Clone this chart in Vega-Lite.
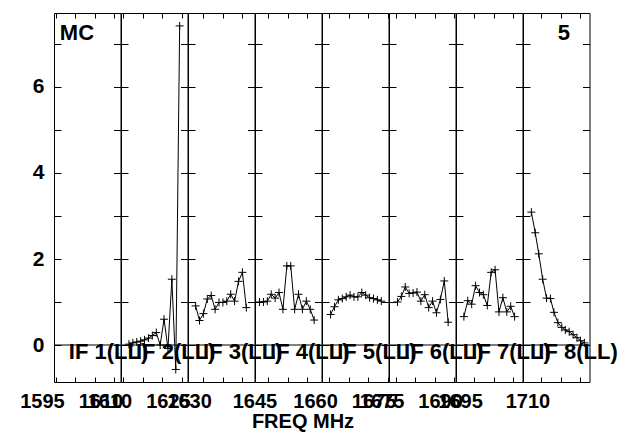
{
"$schema": "https://vega.github.io/schema/vega-lite/v6.json",
"background": "white",
"padding": {"left": 19, "top": 12, "right": 5, "bottom": 2},
"datasets": {
"ifs": [
{"if": 1, "label": "IF 1(LL)"}, {"if": 2, "label": "IF 2(LL)"}, {"if": 3, "label": "IF 3(LL)"}, {"if": 4, "label": "IF 4(LL)"},
{"if": 5, "label": "IF 5(LL)"}, {"if": 6, "label": "IF 6(LL)"}, {"if": 7, "label": "IF 7(LL)"}, {"if": 8, "label": "IF 8(LL)"}
],
"corner": [{"panel": 1, "text": "MC"}, {"panel": 8, "text": "5"}],
"spec": [
{"if":2,"freq":1611.4,"amp":0.02},{"if":2,"freq":1612.4,"amp":0.05},{"if":2,"freq":1613.4,"amp":0.07},{"if":2,"freq":1614.4,"amp":0.09},{"if":2,"freq":1615.4,"amp":0.12},{"if":2,"freq":1616.4,"amp":0.16},{"if":2,"freq":1617.4,"amp":0.22},{"if":2,"freq":1618.4,"amp":0.29},{"if":2,"freq":1619.4,"amp":0.0},{"if":2,"freq":1620.4,"amp":0.6},{"if":2,"freq":1621.4,"amp":-0.08},{"if":2,"freq":1622.4,"amp":1.53},{"if":2,"freq":1623.4,"amp":-0.57},{"if":2,"freq":1624.4,"amp":7.42},
{"if":3,"freq":1628.1,"amp":0.91},{"if":3,"freq":1629.1,"amp":0.57},{"if":3,"freq":1630.1,"amp":0.73},{"if":3,"freq":1631.1,"amp":1.07},{"if":3,"freq":1632.1,"amp":1.15},{"if":3,"freq":1633.1,"amp":0.83},{"if":3,"freq":1634.1,"amp":0.99},{"if":3,"freq":1635.1,"amp":0.99},{"if":3,"freq":1636.1,"amp":1.02},{"if":3,"freq":1637.1,"amp":1.18},{"if":3,"freq":1638.1,"amp":1.02},{"if":3,"freq":1639.1,"amp":1.48},{"if":3,"freq":1640.1,"amp":1.69},{"if":3,"freq":1641.1,"amp":0.87},
{"if":4,"freq":1642.7,"amp":1.0},{"if":4,"freq":1643.7,"amp":1.0},{"if":4,"freq":1644.7,"amp":1.02},{"if":4,"freq":1645.7,"amp":1.18},{"if":4,"freq":1646.7,"amp":1.09},{"if":4,"freq":1647.7,"amp":1.22},{"if":4,"freq":1648.7,"amp":0.83},{"if":4,"freq":1649.7,"amp":1.84},{"if":4,"freq":1650.7,"amp":1.84},{"if":4,"freq":1651.7,"amp":0.83},{"if":4,"freq":1652.7,"amp":1.18},{"if":4,"freq":1653.7,"amp":0.83},{"if":4,"freq":1654.7,"amp":1.02},{"if":4,"freq":1655.7,"amp":0.83},{"if":4,"freq":1656.7,"amp":0.58},
{"if":5,"freq":1660.4,"amp":0.71},{"if":5,"freq":1661.4,"amp":0.89},{"if":5,"freq":1662.4,"amp":1.05},{"if":5,"freq":1663.4,"amp":1.08},{"if":5,"freq":1664.4,"amp":1.12},{"if":5,"freq":1665.4,"amp":1.16},{"if":5,"freq":1666.4,"amp":1.12},{"if":5,"freq":1667.4,"amp":1.12},{"if":5,"freq":1668.4,"amp":1.22},{"if":5,"freq":1669.4,"amp":1.16},{"if":5,"freq":1670.4,"amp":1.1},{"if":5,"freq":1671.4,"amp":1.08},{"if":5,"freq":1672.4,"amp":1.05},{"if":5,"freq":1673.4,"amp":1.02},
{"if":6,"freq":1675.5,"amp":1.0},{"if":6,"freq":1676.5,"amp":1.13},{"if":6,"freq":1677.5,"amp":1.35},{"if":6,"freq":1678.5,"amp":1.2},{"if":6,"freq":1679.5,"amp":1.21},{"if":6,"freq":1680.5,"amp":1.23},{"if":6,"freq":1681.5,"amp":1.02},{"if":6,"freq":1682.5,"amp":1.17},{"if":6,"freq":1683.5,"amp":0.87},{"if":6,"freq":1684.5,"amp":1.02},{"if":6,"freq":1685.5,"amp":0.75},{"if":6,"freq":1686.5,"amp":1.06},{"if":6,"freq":1687.5,"amp":1.49},{"if":6,"freq":1688.5,"amp":0.53},
{"if":7,"freq":1692.4,"amp":0.66},{"if":7,"freq":1693.4,"amp":1.03},{"if":7,"freq":1694.4,"amp":0.95},{"if":7,"freq":1695.4,"amp":1.38},{"if":7,"freq":1696.4,"amp":1.22},{"if":7,"freq":1697.4,"amp":1.17},{"if":7,"freq":1698.4,"amp":0.92},{"if":7,"freq":1699.4,"amp":1.69},{"if":7,"freq":1700.4,"amp":1.75},{"if":7,"freq":1701.4,"amp":0.77},{"if":7,"freq":1702.4,"amp":1.1},{"if":7,"freq":1703.4,"amp":0.77},{"if":7,"freq":1704.4,"amp":0.9},{"if":7,"freq":1705.4,"amp":0.66},
{"if":8,"freq":1707.4,"amp":3.09},{"if":8,"freq":1708.4,"amp":2.61},{"if":8,"freq":1709.3,"amp":2.12},{"if":8,"freq":1710.3,"amp":1.53},{"if":8,"freq":1711.3,"amp":1.09},{"if":8,"freq":1712.3,"amp":1.08},{"if":8,"freq":1713.2,"amp":0.76},{"if":8,"freq":1714.2,"amp":0.52},{"if":8,"freq":1715.2,"amp":0.41},{"if":8,"freq":1716.1,"amp":0.35},{"if":8,"freq":1717.1,"amp":0.31},{"if":8,"freq":1718.1,"amp":0.24},{"if":8,"freq":1719.1,"amp":0.17},{"if":8,"freq":1720.0,"amp":0.1},{"if":8,"freq":1721.0,"amp":0.05}
]
},
"spacing": 0,
"bounds": "flush",
"hconcat": [
{"width": 66.5, "height": 369, "resolve": {"axis": {"x": "independent", "y": "independent"}}, "layer": [
 {"data": {"name": "ifs"}, "transform": [{"filter": "datum.if == 1"}], "mark": {"type": "rule", "color": "black", "strokeWidth": 1},
  "encoding": {"y": {"datum": 0, "type": "quantitative", "scale": {"domain": [-0.86, 7.72], "nice": false, "zero": false}, "axis": {"orient": "right", "values": [0,1,2,3,4,5,6,7], "labels": false, "tickSize": -7, "title": null}}}},
 {"data": {"name": "ifs"}, "transform": [{"filter": "datum.if == 1"}], "mark": {"type": "text", "align": "left", "baseline": "alphabetic", "font": "Liberation Sans", "fontWeight": "bold", "fontSize": 22, "color": "black"},
  "encoding": {"text": {"field": "label"}, "x": {"datum": 1598.3, "type": "quantitative", "scale": {"domain": [1594.5, 1611.55], "nice": false, "zero": false}, "axis": {"orient": "top", "values": [1595,1600,1605,1610], "labels": false, "tickSize": -5, "title": null}}, "y": {"datum": -0.33, "type": "quantitative", "axis": null}}},
 {"data": {"name": "corner"}, "transform": [{"filter": "datum.panel == 1"}], "mark": {"type": "text", "align": "left", "baseline": "alphabetic", "font": "Liberation Sans", "fontWeight": "bold", "fontSize": 22, "color": "black"},
  "encoding": {"text": {"field": "text"}, "x": {"datum": 1596.0, "type": "quantitative", "axis": null}, "y": {"datum": 7.09, "type": "quantitative", "axis": null}}},
 {"data": {"name": "spec"}, "transform": [{"filter": "datum.if == 1"}], "mark": {"type": "line", "color": "black", "strokeWidth": 1},
  "encoding": {"x": {"field": "freq", "type": "quantitative", "axis": {"orient": "bottom", "values": [1595,1600,1605,1610], "format": "d", "labelExpr": "(datum.value - 1595) % 15 == 0 ? datum.label : ''", "tickSize": -5, "labelPadding": 14, "labelOffset": -14, "title": null}},
   "y": {"field": "amp", "type": "quantitative", "axis": {"orient": "left", "values": [0,1,2,3,4,5,6,7], "format": "d", "labelExpr": "datum.value % 2 == 0 ? datum.label : ''", "labelFontSize": 21, "tickSize": -7, "labelPadding": 17, "title": null}}}}
]},
{"width": 66.5, "height": 369, "resolve": {"axis": {"x": "independent", "y": "independent"}}, "layer": [
 {"data": {"name": "ifs"}, "transform": [{"filter": "datum.if == 2"}], "mark": {"type": "rule", "color": "black", "strokeWidth": 1},
  "encoding": {"y": {"datum": 0, "type": "quantitative", "scale": {"domain": [-0.86, 7.72], "nice": false, "zero": false}, "axis": {"orient": "right", "values": [0,1,2,3,4,5,6,7], "labels": false, "tickSize": -7, "title": null}}}},
 {"data": {"name": "ifs"}, "transform": [{"filter": "datum.if == 2"}], "mark": {"type": "text", "align": "left", "baseline": "alphabetic", "font": "Liberation Sans", "fontWeight": "bold", "fontSize": 22, "color": "black"},
  "encoding": {"text": {"field": "label"}, "x": {"datum": 1613.2, "type": "quantitative", "scale": {"domain": [1609.36, 1626.41], "nice": false, "zero": false}, "axis": {"orient": "top", "values": [1610,1615,1620,1625], "labels": false, "tickSize": -5, "title": null}}, "y": {"datum": -0.33, "type": "quantitative", "axis": null}}},
 {"data": {"name": "spec"}, "transform": [{"filter": "datum.if == 2"}], "mark": {"type": "line", "color": "black", "strokeWidth": 1},
  "encoding": {"x": {"field": "freq", "type": "quantitative", "axis": {"orient": "bottom", "values": [1610,1615,1620,1625], "format": "d", "labelExpr": "(datum.value - 1595) % 15 == 0 ? datum.label : ''", "tickSize": -5, "labelPadding": 14, "labelOffset": -14, "title": null}},
   "y": {"field": "amp", "type": "quantitative", "axis": {"orient": "left", "values": [0,1,2,3,4,5,6,7], "labels": false, "tickSize": -7, "title": null}}}},
 {"data": {"name": "spec"}, "transform": [{"filter": "datum.if == 2"}], "mark": {"type": "point", "shape": "M-1,0H1M0,-1V1", "size": 64, "filled": false, "color": "black", "strokeWidth": 1, "opacity": 1},
  "encoding": {"x": {"field": "freq", "type": "quantitative", "axis": null}, "y": {"field": "amp", "type": "quantitative", "axis": null}}}
]},
{"width": 66.5, "height": 369, "resolve": {"axis": {"x": "independent", "y": "independent"}}, "layer": [
 {"data": {"name": "ifs"}, "transform": [{"filter": "datum.if == 3"}], "mark": {"type": "rule", "color": "black", "strokeWidth": 1},
  "encoding": {"y": {"datum": 0, "type": "quantitative", "scale": {"domain": [-0.86, 7.72], "nice": false, "zero": false}, "axis": {"orient": "right", "values": [0,1,2,3,4,5,6,7], "labels": false, "tickSize": -7, "title": null}}}},
 {"data": {"name": "ifs"}, "transform": [{"filter": "datum.if == 3"}], "mark": {"type": "text", "align": "left", "baseline": "alphabetic", "font": "Liberation Sans", "fontWeight": "bold", "fontSize": 22, "color": "black"},
  "encoding": {"text": {"field": "label"}, "x": {"datum": 1630.0, "type": "quantitative", "scale": {"domain": [1626.15, 1643.2], "nice": false, "zero": false}, "axis": {"orient": "top", "values": [1630,1635,1640], "labels": false, "tickSize": -5, "title": null}}, "y": {"datum": -0.33, "type": "quantitative", "axis": null}}},
 {"data": {"name": "spec"}, "transform": [{"filter": "datum.if == 3"}], "mark": {"type": "line", "color": "black", "strokeWidth": 1},
  "encoding": {"x": {"field": "freq", "type": "quantitative", "axis": {"orient": "bottom", "values": [1630,1635,1640], "format": "d", "labelExpr": "(datum.value - 1630) % 15 == 0 ? datum.label : ''", "tickSize": -5, "labelPadding": 14, "labelOffset": -14, "title": null}},
   "y": {"field": "amp", "type": "quantitative", "axis": {"orient": "left", "values": [0,1,2,3,4,5,6,7], "labels": false, "tickSize": -7, "title": null}}}},
 {"data": {"name": "spec"}, "transform": [{"filter": "datum.if == 3"}], "mark": {"type": "point", "shape": "M-1,0H1M0,-1V1", "size": 64, "filled": false, "color": "black", "strokeWidth": 1, "opacity": 1},
  "encoding": {"x": {"field": "freq", "type": "quantitative", "axis": null}, "y": {"field": "amp", "type": "quantitative", "axis": null}}}
]},
{"width": 66.5, "height": 369, "resolve": {"axis": {"x": "independent", "y": "independent"}}, "layer": [
 {"data": {"name": "ifs"}, "transform": [{"filter": "datum.if == 4"}], "mark": {"type": "rule", "color": "black", "strokeWidth": 1},
  "encoding": {"y": {"datum": 0, "type": "quantitative", "scale": {"domain": [-0.86, 7.72], "nice": false, "zero": false}, "axis": {"orient": "right", "values": [0,1,2,3,4,5,6,7], "labels": false, "tickSize": -7, "title": null}}}},
 {"data": {"name": "ifs"}, "transform": [{"filter": "datum.if == 4"}], "mark": {"type": "text", "align": "left", "baseline": "alphabetic", "font": "Liberation Sans", "fontWeight": "bold", "fontSize": 22, "color": "black"},
  "encoding": {"text": {"field": "label"}, "x": {"datum": 1645.4, "type": "quantitative", "scale": {"domain": [1641.54, 1658.59], "nice": false, "zero": false}, "axis": {"orient": "top", "values": [1645,1650,1655], "labels": false, "tickSize": -5, "title": null}}, "y": {"datum": -0.33, "type": "quantitative", "axis": null}}},
 {"data": {"name": "spec"}, "transform": [{"filter": "datum.if == 4"}], "mark": {"type": "line", "color": "black", "strokeWidth": 1},
  "encoding": {"x": {"field": "freq", "type": "quantitative", "axis": {"orient": "bottom", "values": [1645,1650,1655], "format": "d", "labelExpr": "(datum.value - 1630) % 15 == 0 ? datum.label : ''", "tickSize": -5, "labelPadding": 14, "labelOffset": -14, "title": "FREQ MHz", "titlePadding": 0, "titleX": 47.5, "titleFontSize": 20}},
   "y": {"field": "amp", "type": "quantitative", "axis": {"orient": "left", "values": [0,1,2,3,4,5,6,7], "labels": false, "tickSize": -7, "title": null}}}},
 {"data": {"name": "spec"}, "transform": [{"filter": "datum.if == 4"}], "mark": {"type": "point", "shape": "M-1,0H1M0,-1V1", "size": 64, "filled": false, "color": "black", "strokeWidth": 1, "opacity": 1},
  "encoding": {"x": {"field": "freq", "type": "quantitative", "axis": null}, "y": {"field": "amp", "type": "quantitative", "axis": null}}}
]},
{"width": 66.5, "height": 369, "resolve": {"axis": {"x": "independent", "y": "independent"}}, "layer": [
 {"data": {"name": "ifs"}, "transform": [{"filter": "datum.if == 5"}], "mark": {"type": "rule", "color": "black", "strokeWidth": 1},
  "encoding": {"y": {"datum": 0, "type": "quantitative", "scale": {"domain": [-0.86, 7.72], "nice": false, "zero": false}, "axis": {"orient": "right", "values": [0,1,2,3,4,5,6,7], "labels": false, "tickSize": -7, "title": null}}}},
 {"data": {"name": "ifs"}, "transform": [{"filter": "datum.if == 5"}], "mark": {"type": "text", "align": "left", "baseline": "alphabetic", "font": "Liberation Sans", "fontWeight": "bold", "fontSize": 22, "color": "black"},
  "encoding": {"text": {"field": "label"}, "x": {"datum": 1662.1, "type": "quantitative", "scale": {"domain": [1658.2, 1675.25], "nice": false, "zero": false}, "axis": {"orient": "top", "values": [1660,1665,1670,1675], "labels": false, "tickSize": -5, "title": null}}, "y": {"datum": -0.33, "type": "quantitative", "axis": null}}},
 {"data": {"name": "spec"}, "transform": [{"filter": "datum.if == 5"}], "mark": {"type": "line", "color": "black", "strokeWidth": 1},
  "encoding": {"x": {"field": "freq", "type": "quantitative", "axis": {"orient": "bottom", "values": [1660,1665,1670,1675], "format": "d", "labelExpr": "(datum.value - 1630) % 15 == 0 ? datum.label : ''", "tickSize": -5, "labelPadding": 14, "labelOffset": -14, "title": null}},
   "y": {"field": "amp", "type": "quantitative", "axis": {"orient": "left", "values": [0,1,2,3,4,5,6,7], "labels": false, "tickSize": -7, "title": null}}}},
 {"data": {"name": "spec"}, "transform": [{"filter": "datum.if == 5"}], "mark": {"type": "point", "shape": "M-1,0H1M0,-1V1", "size": 64, "filled": false, "color": "black", "strokeWidth": 1, "opacity": 1},
  "encoding": {"x": {"field": "freq", "type": "quantitative", "axis": null}, "y": {"field": "amp", "type": "quantitative", "axis": null}}}
]},
{"width": 66.5, "height": 369, "resolve": {"axis": {"x": "independent", "y": "independent"}}, "layer": [
 {"data": {"name": "ifs"}, "transform": [{"filter": "datum.if == 6"}], "mark": {"type": "rule", "color": "black", "strokeWidth": 1},
  "encoding": {"y": {"datum": 0, "type": "quantitative", "scale": {"domain": [-0.86, 7.72], "nice": false, "zero": false}, "axis": {"orient": "right", "values": [0,1,2,3,4,5,6,7], "labels": false, "tickSize": -7, "title": null}}}},
 {"data": {"name": "ifs"}, "transform": [{"filter": "datum.if == 6"}], "mark": {"type": "text", "align": "left", "baseline": "alphabetic", "font": "Liberation Sans", "fontWeight": "bold", "fontSize": 22, "color": "black"},
  "encoding": {"text": {"field": "label"}, "x": {"datum": 1677.2, "type": "quantitative", "scale": {"domain": [1673.33, 1690.38], "nice": false, "zero": false}, "axis": {"orient": "top", "values": [1675,1680,1685,1690], "labels": false, "tickSize": -5, "title": null}}, "y": {"datum": -0.33, "type": "quantitative", "axis": null}}},
 {"data": {"name": "spec"}, "transform": [{"filter": "datum.if == 6"}], "mark": {"type": "line", "color": "black", "strokeWidth": 1},
  "encoding": {"x": {"field": "freq", "type": "quantitative", "axis": {"orient": "bottom", "values": [1675,1680,1685,1690], "format": "d", "labelExpr": "(datum.value - 1630) % 15 == 0 ? datum.label : ''", "tickSize": -5, "labelPadding": 14, "labelOffset": -14, "title": null}},
   "y": {"field": "amp", "type": "quantitative", "axis": {"orient": "left", "values": [0,1,2,3,4,5,6,7], "labels": false, "tickSize": -7, "title": null}}}},
 {"data": {"name": "spec"}, "transform": [{"filter": "datum.if == 6"}], "mark": {"type": "point", "shape": "M-1,0H1M0,-1V1", "size": 64, "filled": false, "color": "black", "strokeWidth": 1, "opacity": 1},
  "encoding": {"x": {"field": "freq", "type": "quantitative", "axis": null}, "y": {"field": "amp", "type": "quantitative", "axis": null}}}
]},
{"width": 66.5, "height": 369, "resolve": {"axis": {"x": "independent", "y": "independent"}}, "layer": [
 {"data": {"name": "ifs"}, "transform": [{"filter": "datum.if == 7"}], "mark": {"type": "rule", "color": "black", "strokeWidth": 1},
  "encoding": {"y": {"datum": 0, "type": "quantitative", "scale": {"domain": [-0.86, 7.72], "nice": false, "zero": false}, "axis": {"orient": "right", "values": [0,1,2,3,4,5,6,7], "labels": false, "tickSize": -7, "title": null}}}},
 {"data": {"name": "ifs"}, "transform": [{"filter": "datum.if == 7"}], "mark": {"type": "text", "align": "left", "baseline": "alphabetic", "font": "Liberation Sans", "fontWeight": "bold", "fontSize": 22, "color": "black"},
  "encoding": {"text": {"field": "label"}, "x": {"datum": 1694.3, "type": "quantitative", "scale": {"domain": [1690.38, 1707.43], "nice": false, "zero": false}, "axis": {"orient": "top", "values": [1695,1700,1705], "labels": false, "tickSize": -5, "title": null}}, "y": {"datum": -0.33, "type": "quantitative", "axis": null}}},
 {"data": {"name": "spec"}, "transform": [{"filter": "datum.if == 7"}], "mark": {"type": "line", "color": "black", "strokeWidth": 1},
  "encoding": {"x": {"field": "freq", "type": "quantitative", "axis": {"orient": "bottom", "values": [1695,1700,1705], "format": "d", "labelExpr": "(datum.value - 1695) % 15 == 0 ? datum.label : ''", "tickSize": -5, "labelPadding": 14, "labelOffset": -14, "title": null}},
   "y": {"field": "amp", "type": "quantitative", "axis": {"orient": "left", "values": [0,1,2,3,4,5,6,7], "labels": false, "tickSize": -7, "title": null}}}},
 {"data": {"name": "spec"}, "transform": [{"filter": "datum.if == 7"}], "mark": {"type": "point", "shape": "M-1,0H1M0,-1V1", "size": 64, "filled": false, "color": "black", "strokeWidth": 1, "opacity": 1},
  "encoding": {"x": {"field": "freq", "type": "quantitative", "axis": null}, "y": {"field": "amp", "type": "quantitative", "axis": null}}}
]},
{"width": 66.5, "height": 369, "resolve": {"axis": {"x": "independent", "y": "independent"}}, "layer": [
 {"data": {"name": "ifs"}, "transform": [{"filter": "datum.if == 8"}], "mark": {"type": "rule", "color": "black", "strokeWidth": 1},
  "encoding": {"y": {"datum": 0, "type": "quantitative", "scale": {"domain": [-0.86, 7.72], "nice": false, "zero": false}, "axis": {"orient": "right", "values": [0,1,2,3,4,5,6,7], "labels": false, "tickSize": -7, "title": null}}}},
 {"data": {"name": "ifs"}, "transform": [{"filter": "datum.if == 8"}], "mark": {"type": "text", "align": "left", "baseline": "alphabetic", "font": "Liberation Sans", "fontWeight": "bold", "fontSize": 22, "color": "black"},
  "encoding": {"text": {"field": "label"}, "x": {"datum": 1709.2, "type": "quantitative", "scale": {"domain": [1705.26, 1722.31], "nice": false, "zero": false}, "axis": {"orient": "top", "values": [1710,1715,1720], "labels": false, "tickSize": -5, "title": null}}, "y": {"datum": -0.33, "type": "quantitative", "axis": null}}},
 {"data": {"name": "corner"}, "transform": [{"filter": "datum.panel == 8"}], "mark": {"type": "text", "align": "right", "baseline": "alphabetic", "font": "Liberation Sans", "fontWeight": "bold", "fontSize": 22, "color": "black"},
  "encoding": {"text": {"field": "text"}, "x": {"datum": 1717.3, "type": "quantitative", "axis": null}, "y": {"datum": 7.09, "type": "quantitative", "axis": null}}},
 {"data": {"name": "spec"}, "transform": [{"filter": "datum.if == 8"}], "mark": {"type": "line", "color": "black", "strokeWidth": 1},
  "encoding": {"x": {"field": "freq", "type": "quantitative", "axis": {"orient": "bottom", "values": [1710,1715,1720], "format": "d", "labelExpr": "(datum.value - 1695) % 15 == 0 ? datum.label : ''", "tickSize": -5, "labelPadding": 14, "labelOffset": -14, "title": null}},
   "y": {"field": "amp", "type": "quantitative", "axis": {"orient": "left", "values": [0,1,2,3,4,5,6,7], "labels": false, "tickSize": -7, "title": null}}}},
 {"data": {"name": "spec"}, "transform": [{"filter": "datum.if == 8"}], "mark": {"type": "point", "shape": "M-1,0H1M0,-1V1", "size": 64, "filled": false, "color": "black", "strokeWidth": 1, "opacity": 1},
  "encoding": {"x": {"field": "freq", "type": "quantitative", "axis": null}, "y": {"field": "amp", "type": "quantitative", "axis": null}}}
]}
],
"config": {
 "font": "Liberation Sans",
 "view": {"stroke": "black", "strokeWidth": 1},
 "axis": {"grid": false, "domain": false, "tickColor": "black", "tickWidth": 1, "labelFont": "Liberation Sans", "labelFontWeight": "bold", "labelFontSize": 20, "labelColor": "black", "labelOverlap": false, "labelFlush": false, "labelBound": false, "minExtent": 0, "titleFont": "Liberation Sans", "titleFontWeight": "bold", "titleFontSize": 20, "titleColor": "black"}
}
}
